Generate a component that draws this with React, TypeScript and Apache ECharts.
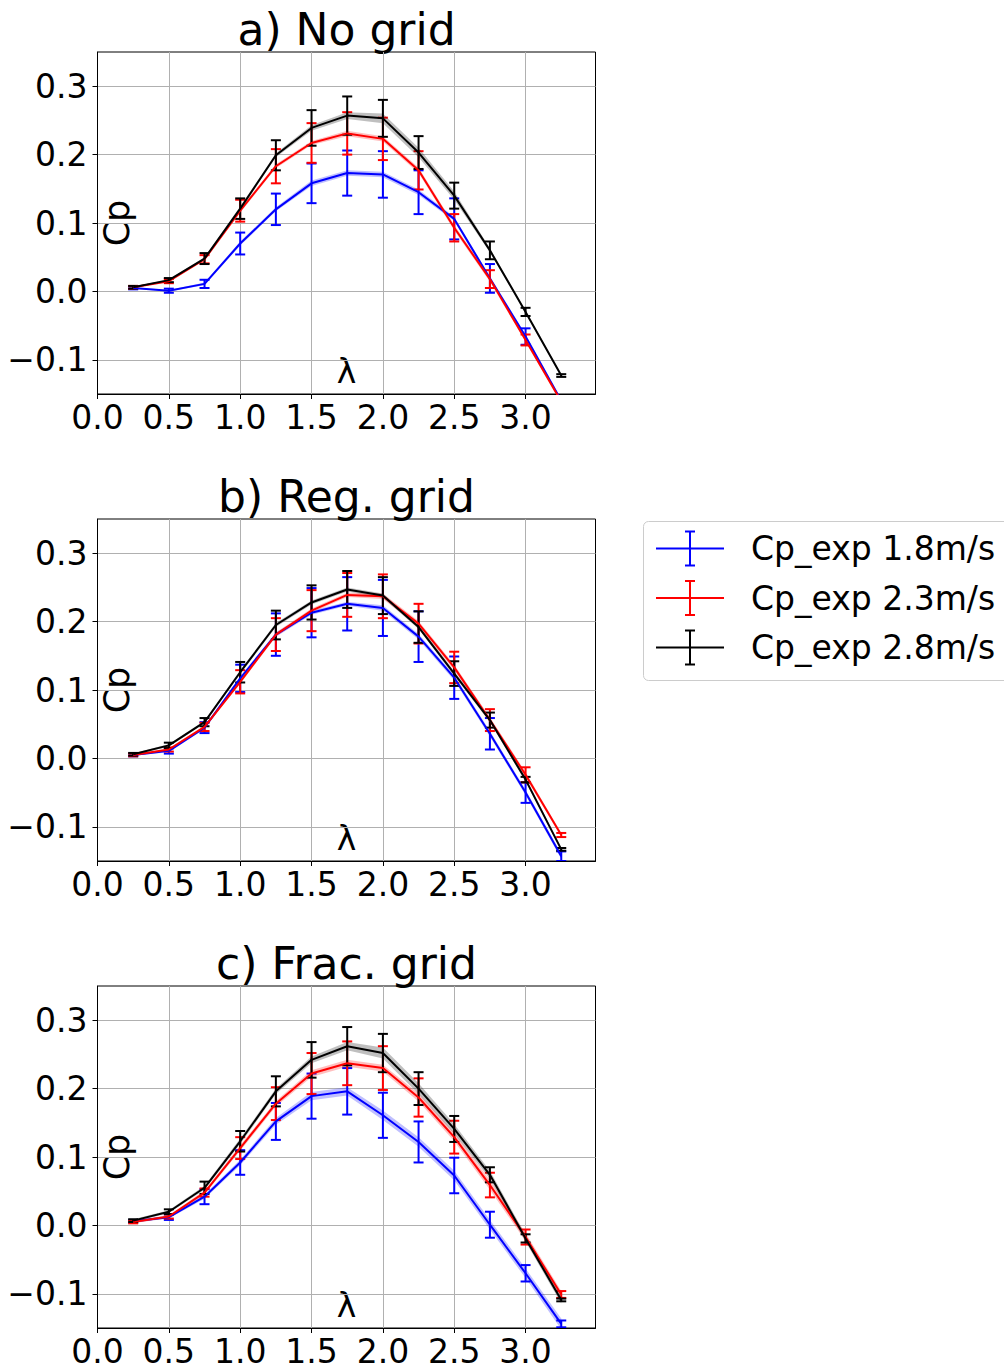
import React, { useEffect, useRef } from 'react';
import * as echarts from 'echarts';

// ---------- data ----------
const lambdaValues = [0.25, 0.5, 0.75, 1.0, 1.25, 1.5, 1.75, 2.0, 2.25, 2.5, 2.75, 3.0, 3.25];

// a) No grid
const aBlue = [0.005, 0.001, 0.011, 0.070, 0.120, 0.158, 0.173, 0.171, 0.145, 0.106, 0.019, -0.066, -0.160];
const aBlueErr = [0.002, 0.003, 0.006, 0.016, 0.023, 0.029, 0.033, 0.034, 0.032, 0.030, 0.021, 0.012, 0.008];
const aBlueBand = [0.001, 0.001, 0.002, 0.003, 0.003, 0.004, 0.004, 0.004, 0.004, 0.003, 0.003, 0.003, 0.003];
const aRed = [0.006, 0.015, 0.047, 0.118, 0.183, 0.217, 0.231, 0.223, 0.177, 0.093, 0.018, -0.071, -0.161];
const aRedErr = [0.002, 0.003, 0.006, 0.016, 0.025, 0.029, 0.031, 0.031, 0.028, 0.020, 0.013, 0.008, 0.004];
const aRedBand = [0.001, 0.001, 0.002, 0.003, 0.003, 0.003, 0.004, 0.004, 0.004, 0.004, 0.004, 0.003, 0.003];
const aBlack = [0.006, 0.0165, 0.048, 0.121, 0.199, 0.239, 0.257, 0.253, 0.203, 0.140, 0.060, -0.030, -0.123];
const aBlackErr = [0.002, 0.003, 0.008, 0.015, 0.022, 0.026, 0.028, 0.027, 0.024, 0.019, 0.013, 0.006, 0.002];
const aBlackBand = [0.001, 0.001, 0.002, 0.003, 0.003, 0.004, 0.005, 0.007, 0.007, 0.006, 0.003, 0.002, 0.002];

// b) Reg. grid
const bBlue = [0.005, 0.011, 0.045, 0.117, 0.181, 0.213, 0.226, 0.220, 0.178, 0.118, 0.036, -0.050, -0.143];
const bBlueErr = [0.002, 0.004, 0.008, 0.020, 0.031, 0.036, 0.039, 0.041, 0.037, 0.031, 0.023, 0.015, 0.007];
const bBlueBand = [0.001, 0.002, 0.002, 0.003, 0.003, 0.003, 0.003, 0.004, 0.004, 0.004, 0.004, 0.004, 0.004];
const bRed = [0.005, 0.013, 0.046, 0.112, 0.181, 0.216, 0.239, 0.237, 0.197, 0.133, 0.056, -0.024, -0.112];
const bRedErr = [0.002, 0.003, 0.006, 0.017, 0.024, 0.030, 0.032, 0.032, 0.029, 0.023, 0.016, 0.011, 0.003];
const bRedBand = [0.001, 0.002, 0.002, 0.003, 0.003, 0.003, 0.003, 0.004, 0.004, 0.004, 0.004, 0.004, 0.003];
const bBlack = [0.006, 0.019, 0.053, 0.126, 0.195, 0.228, 0.247, 0.238, 0.192, 0.124, 0.056, -0.031, -0.133];
const bBlackErr = [0.002, 0.004, 0.006, 0.015, 0.021, 0.025, 0.027, 0.027, 0.023, 0.018, 0.011, 0.004, 0.002];
const bBlackBand = [0.001, 0.002, 0.002, 0.003, 0.003, 0.003, 0.003, 0.003, 0.003, 0.003, 0.003, 0.003, 0.002];

// c) Frac. grid
const cBlue = [0.006, 0.012, 0.042, 0.092, 0.152, 0.189, 0.196, 0.161, 0.122, 0.073, 0.001, -0.070, -0.144];
const cBlueErr = [0.002, 0.004, 0.011, 0.018, 0.027, 0.033, 0.034, 0.033, 0.030, 0.026, 0.019, 0.012, 0.005];
const cBlueBand = [0.002, 0.002, 0.003, 0.004, 0.005, 0.006, 0.006, 0.007, 0.007, 0.007, 0.007, 0.007, 0.008];
const cRed = [0.005, 0.013, 0.048, 0.113, 0.178, 0.222, 0.237, 0.230, 0.187, 0.129, 0.059, -0.017, -0.101];
const cRedErr = [0.002, 0.003, 0.006, 0.016, 0.024, 0.030, 0.032, 0.032, 0.028, 0.024, 0.018, 0.011, 0.005];
const cRedBand = [0.002, 0.002, 0.003, 0.004, 0.004, 0.005, 0.005, 0.005, 0.006, 0.006, 0.007, 0.006, 0.005];
const cBlack = [0.007, 0.020, 0.055, 0.123, 0.196, 0.242, 0.262, 0.252, 0.200, 0.141, 0.074, -0.019, -0.109];
const cBlackErr = [0.002, 0.0035, 0.009, 0.015, 0.022, 0.026, 0.028, 0.028, 0.024, 0.019, 0.011, 0.006, 0.002];
const cBlackBand = [0.002, 0.002, 0.003, 0.004, 0.004, 0.005, 0.006, 0.008, 0.008, 0.007, 0.006, 0.005, 0.005];

const panelTitles = ['a) No grid', 'b) Reg. grid', 'c) Frac. grid'];
const seriesNames = ['Cp_exp 1.8m/s', 'Cp_exp 2.3m/s', 'Cp_exp 2.8m/s'];
const seriesColors = ['#0000ff', '#ff0000', '#000000'];
const yTicks = [-0.1, 0.0, 0.1, 0.2, 0.3];
const xTicks = [0.0, 0.5, 1.0, 1.5, 2.0, 2.5, 3.0];
const yLabel = 'Cp';
const xLabel = 'λ';

const panels = [
  { means: [aBlue, aRed, aBlack], errs: [aBlueErr, aRedErr, aBlackErr], bands: [aBlueBand, aRedBand, aBlackBand] },
  { means: [bBlue, bRed, bBlack], errs: [bBlueErr, bRedErr, bBlackErr], bands: [bBlueBand, bRedBand, bBlackBand] },
  { means: [cBlue, cRed, cBlack], errs: [cBlueErr, cRedErr, cBlackErr], bands: [cBlueBand, cRedBand, cBlackBand] },
];

// ---------- layout ----------
const W = 1004;
const H = 1369;
const FONT = 'DejaVu Sans';
const TICK_FONT = 33;
const TITLE_FONT = 44;
const GRID_LEFT = 97.5;
const GRID_W = 498;
const GRID_H = 342;
const GRID_TOPS = [52, 519, 986];
const Y_MIN = -0.15;
const Y_MAX = 0.35;
const X_MIN = 0;
const X_MAX = 3.49;

const fmt = (v: number) => {
  const r = Math.abs(v) < 1e-9 ? 0 : v;
  return r.toFixed(1).replace('-', '\u2212');
};

function buildOption() {
  const grid: any[] = [];
  const xAxis: any[] = [];
  const yAxis: any[] = [];
  const series: any[] = [];
  const graphic: any[] = [];

  panels.forEach((panel, p) => {
    const top = GRID_TOPS[p];
    grid.push({
      left: GRID_LEFT,
      top,
      width: GRID_W,
      height: GRID_H,
      show: true,
      borderColor: '#000',
      borderWidth: 1,
      backgroundColor: 'transparent',
      containLabel: false,
    });
    xAxis.push({
      type: 'value',
      gridIndex: p,
      min: X_MIN,
      max: X_MAX,
      axisLine: { show: true, onZero: false, lineStyle: { color: '#000', width: 1 } },
      axisTick: { show: true, length: 5, inside: false, customValues: xTicks, lineStyle: { color: '#000', width: 1 } },
      axisLabel: {
        show: true,
        customValues: xTicks,
        margin: 7,
        fontSize: TICK_FONT,
        fontFamily: FONT,
        color: '#000',
        formatter: (v: number) => fmt(v),
      },
      splitLine: { show: true, lineStyle: { color: '#b0b0b0', width: 1 } },
    });
    yAxis.push({
      type: 'value',
      gridIndex: p,
      min: Y_MIN,
      max: Y_MAX,
      axisLine: { show: true, onZero: false, lineStyle: { color: '#000', width: 1 } },
      axisTick: { show: true, length: 5, inside: false, customValues: yTicks, lineStyle: { color: '#000', width: 1 } },
      axisLabel: {
        show: true,
        customValues: yTicks,
        margin: 10,
        fontSize: TICK_FONT,
        fontFamily: FONT,
        color: '#000',
        formatter: (v: number) => fmt(v),
      },
      splitLine: { show: true, lineStyle: { color: '#b0b0b0', width: 1 } },
    });

    panel.means.forEach((mean, s) => {
      const color = seriesColors[s];
      const err = panel.errs[s];
      const band = panel.bands[s];
      // shaded band
      const segs: number[][] = [];
      for (let i = 0; i < lambdaValues.length - 1; i++) {
        segs.push([
          lambdaValues[i], mean[i] - band[i], mean[i] + band[i],
          lambdaValues[i + 1], mean[i + 1] - band[i + 1], mean[i + 1] + band[i + 1],
        ]);
      }
      series.push({
        type: 'custom',
        name: seriesNames[s] + ' band',
        xAxisIndex: p,
        yAxisIndex: p,
        clip: true,
        silent: true,
        data: segs,
        encode: { x: [0, 3], y: [1, 2, 4, 5] },
        renderItem: (params: any, api: any) => {
          const a0 = api.coord([api.value(0), api.value(1)]);
          const a1 = api.coord([api.value(0), api.value(2)]);
          const b0 = api.coord([api.value(3), api.value(4)]);
          const b1 = api.coord([api.value(3), api.value(5)]);
          return {
            type: 'polygon',
            shape: { points: [a1, b1, b0, a0] },
            style: { fill: color, opacity: 0.25, stroke: null },
          };
        },
      });
      // error bars
      series.push({
        type: 'custom',
        name: seriesNames[s] + ' err',
        xAxisIndex: p,
        yAxisIndex: p,
        clip: true,
        silent: true,
        data: lambdaValues.map((x, i) => [x, mean[i] - err[i], mean[i] + err[i]]),
        encode: { x: 0, y: [1, 2] },
        renderItem: (params: any, api: any) => {
          const x = api.value(0);
          const t = api.coord([x, api.value(2)]);
          const b = api.coord([x, api.value(1)]);
          const st = { stroke: color, lineWidth: 2 };
          return {
            type: 'group',
            children: [
              { type: 'line', shape: { x1: t[0], y1: t[1], x2: b[0], y2: b[1] }, style: st },
              { type: 'line', shape: { x1: t[0] - 5, y1: t[1], x2: t[0] + 5, y2: t[1] }, style: st },
              { type: 'line', shape: { x1: b[0] - 5, y1: b[1], x2: b[0] + 5, y2: b[1] }, style: st },
            ],
          };
        },
      });
      // mean line
      series.push({
        type: 'line',
        name: seriesNames[s],
        xAxisIndex: p,
        yAxisIndex: p,
        data: lambdaValues.map((x, i) => [x, mean[i]]),
        showSymbol: false,
        symbol: 'none',
        clip: true,
        lineStyle: { color, width: 2 },
        itemStyle: { color },
        silent: true,
      });
    });

    // title, axis labels
    const cx = GRID_LEFT + GRID_W / 2;
    graphic.push({
      type: 'text',
      x: cx,
      y: top - 23,
      style: { text: panelTitles[p], font: `${TITLE_FONT}px "${FONT}"`, fill: '#000', textAlign: 'center', textVerticalAlign: 'middle' },
    });
    graphic.push({
      type: 'text',
      x: GRID_LEFT + 19,
      y: top + GRID_H / 2,
      rotation: Math.PI / 2,
      style: { text: yLabel, font: `35px "${FONT}"`, fill: '#000', textAlign: 'center', textVerticalAlign: 'middle' },
    });
    graphic.push({
      type: 'text',
      x: cx,
      y: top + GRID_H - 23,
      style: { text: xLabel, font: `${TICK_FONT}px "${FONT}"`, fill: '#000', textAlign: 'center', textVerticalAlign: 'middle' },
    });
  });

  // legend
  const legendChildren: any[] = [
    {
      type: 'rect',
      shape: { x: 643.5, y: 521.5, width: 380, height: 159, r: 5 },
      style: { fill: 'rgba(255,255,255,0.8)', stroke: '#cccccc', lineWidth: 1 },
    },
  ];
  const legendYs = [548.5, 598, 647.5];
  seriesNames.forEach((name, s) => {
    const y = legendYs[s];
    const color = seriesColors[s];
    const st = { stroke: color, lineWidth: 2 };
    legendChildren.push(
      { type: 'line', shape: { x1: 656, y1: y, x2: 724, y2: y }, style: st },
      { type: 'line', shape: { x1: 690, y1: y - 17, x2: 690, y2: y + 17 }, style: st },
      { type: 'line', shape: { x1: 685, y1: y - 17, x2: 695, y2: y - 17 }, style: st },
      { type: 'line', shape: { x1: 685, y1: y + 17, x2: 695, y2: y + 17 }, style: st },
      {
        type: 'text',
        x: 751,
        y: y,
        style: { text: name, font: `${TICK_FONT}px "${FONT}"`, fill: '#000', textAlign: 'left', textVerticalAlign: 'middle' },
      },
    );
  });
  graphic.push({ type: 'group', children: legendChildren });

  return {
    animation: false,
    backgroundColor: '#ffffff',
    textStyle: { fontFamily: FONT },
    grid,
    xAxis,
    yAxis,
    series,
    graphic,
  };
}

export default function App() {
  const ref = useRef<HTMLDivElement>(null);
  useEffect(() => {
    if (!ref.current) return;
    const chart = echarts.init(ref.current, null, { renderer: 'svg', width: W, height: H });
    chart.setOption(buildOption());
    return () => {
      chart.dispose();
    };
  }, []);
  return <div ref={ref} style={{ position: 'absolute', left: 0, top: 0, width: W, height: H }} />;
}
